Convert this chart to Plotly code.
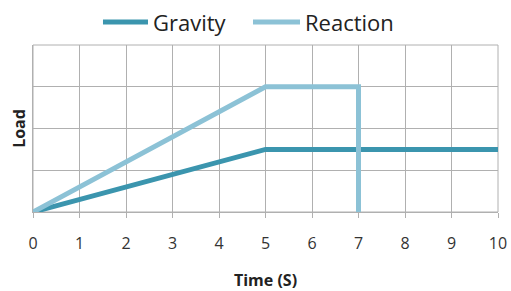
import plotly.graph_objects as go

gravity_x = [0, 5, 10]
gravity_y = [0, 1.5, 1.5]
reaction_x = [0, 5, 7, 7]
reaction_y = [0, 3, 3, 0]
x_ticks = list(range(0, 11))

series = [
    dict(name="Gravity", x=gravity_x, y=gravity_y, color="#3b95ae"),
    dict(name="Reaction", x=reaction_x, y=reaction_y, color="#8cc2d6"),
]

fig = go.Figure()
for s in series:
    fig.add_trace(go.Scatter(x=s["x"], y=s["y"], mode="lines", name=s["name"],
                             line=dict(color=s["color"], width=5), showlegend=False))

grid = "#b0b0b0"
fam = "Open Sans, Lato, sans-serif"
fig.update_layout(
    width=511, height=291,
    margin=dict(l=33, r=13, t=45, b=79, autoexpand=False),
    paper_bgcolor="white", plot_bgcolor="white",
    font=dict(family=fam, color="#333333"),
    showlegend=False,
    xaxis=dict(range=[0, 10], tickvals=x_ticks, ticktext=[str(v) for v in x_ticks],
               showgrid=True, gridcolor=grid, gridwidth=1, automargin=False,
               showline=True, linecolor=grid, linewidth=1, mirror=False,
               ticks="outside", ticklen=5, tickcolor=grid,
               tickfont=dict(size=16, color="#333333"), ticklabelstandoff=12,
               zeroline=False,
               title=dict(text="<b>Time (S)</b>", font=dict(size=16, color="#222222"), standoff=24)),
    yaxis=dict(range=[0, 4], dtick=1, showticklabels=False, automargin=False,
               showgrid=True, gridcolor=grid, gridwidth=1,
               showline=True, linecolor=grid, linewidth=1, zeroline=False,
               title=dict(text="<b>Load</b>", font=dict(size=16, color="#222222"), standoff=2)),
)
fig.add_shape(type="rect", xref="paper", yref="paper", x0=0, y0=0, x1=1, y1=1,
              line=dict(color=grid, width=1), layer="below")

# Legend drawn above the plot (paper coordinates)
leg_y = 1.138
leg_items = [(0.1505, 0.2473, 0.2545), (0.4731, 0.5742, 0.5806)]
for s, (x0, x1, tx) in zip(series, leg_items):
    fig.add_shape(type="line", xref="paper", yref="paper", x0=x0, x1=x1, y0=leg_y, y1=leg_y,
                  line=dict(color=s["color"], width=5))
    fig.add_annotation(xref="paper", yref="paper", x=tx, y=leg_y, xanchor="left", yanchor="middle",
                       text=s["name"], showarrow=False, font=dict(size=22, color="#222222"))

fig.write_html("out.html", config={"displayModeBar": False},
               post_script="document.body.style.margin='0px';")
